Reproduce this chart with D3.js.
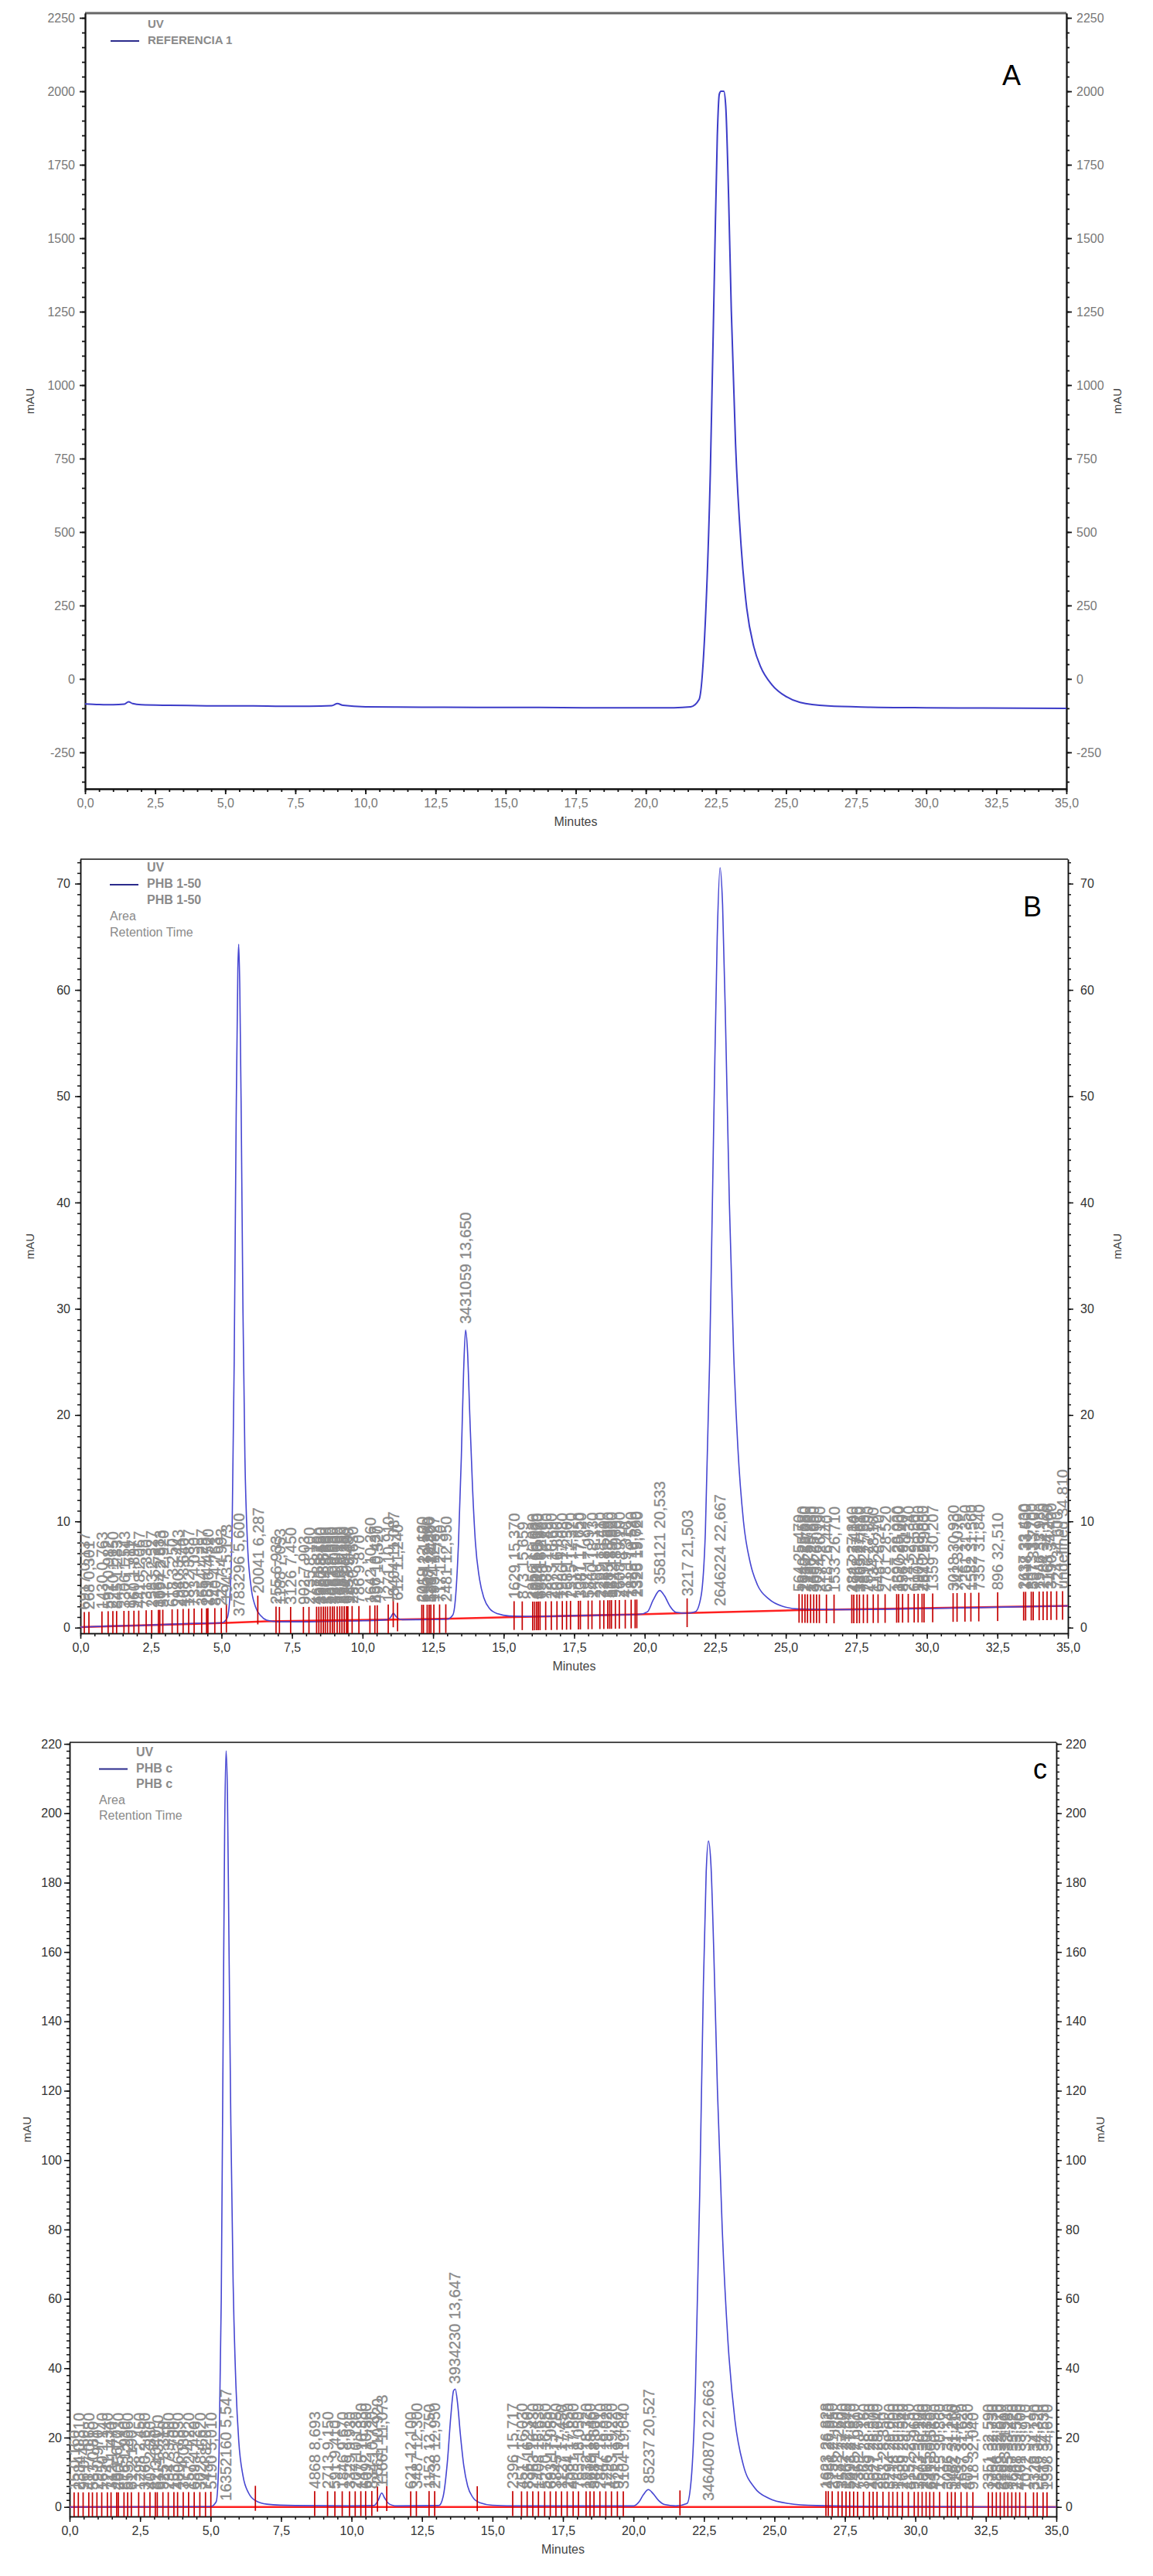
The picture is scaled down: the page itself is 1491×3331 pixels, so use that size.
<!DOCTYPE html>
<html><head><meta charset="utf-8">
<script src="https://cdn.jsdelivr.net/npm/d3@7"></script>
<style>body{margin:0;background:#fff}svg{display:block}text{font-family:"Liberation Sans",Arial,sans-serif}</style>
</head><body><svg id="c" width="1491" height="3331"></svg>
<script>
// ---------------- DATA ----------------
const xTickValues = [0,2.5,5,7.5,10,12.5,15,17.5,20,22.5,25,27.5,30,32.5,35];
const xTickLabels = ["0,0","2,5","5,0","7,5","10,0","12,5","15,0","17,5","20,0","22,5","25,0","27,5","30,0","32,5","35,0"];
const yTicksA = [-250,0,250,500,750,1000,1250,1500,1750,2000,2250];
const yTicksB = [0,10,20,30,40,50,60,70];
const yTicksC = [0,20,40,60,80,100,120,140,160,180,200,220];

const legendA = ["UV","REFERENCIA 1"];
const legendB = ["UV","PHB 1-50","PHB 1-50","Area","Retention Time"];
const legendC = ["UV","PHB c","PHB c","Area","Retention Time"];

// Panel A trace (minutes, mAU)
const traceA_t = [0,0.5,1.0,1.4,1.55,1.7,2.0,3,4,5,6,7,8,8.8,9.0,9.2,10,12,14,16,18,20,21,21.6,21.9,22.1,22.3,22.45,22.55,22.62,22.68,22.78,22.85,22.95,23.05,23.2,23.4,23.6,23.85,24.1,24.5,25,25.5,26.5,28,30,32,35];
const traceA_v = [-85,-87,-88,-86,-78,-84,-88,-90,-91,-92,-92,-93,-93,-91,-84,-90,-95,-96,-97,-97,-98,-98,-98,-95,-70,150,700,1400,1850,1990,2000,2000,1950,1650,1250,800,450,240,110,40,-20,-60,-80,-92,-96,-98,-99,-100];

// Panel B trace
const traceB_t = [0,1,2,3,4,5,5.2,5.3,5.38,5.45,5.52,5.58,5.61,5.65,5.7,5.76,5.83,5.92,6.05,6.2,6.4,6.6,7,8,9,10,10.9,11.0,11.09,11.2,11.4,12,13,13.2,13.3,13.4,13.5,13.58,13.65,13.72,13.8,13.9,14.0,14.15,14.3,14.5,14.8,15.2,16,17,18,19,19.8,20.1,20.3,20.53,20.7,20.9,21.1,21.5,21.8,22.0,22.15,22.3,22.45,22.57,22.67,22.76,22.88,23.0,23.15,23.3,23.5,23.75,24.0,24.4,24.9,25.5,27,30,33,35];
const traceB_v = [0.05,0.15,0.2,0.3,0.4,0.45,0.9,3,10,25,48,62,64.3,60,48,30,16,8,3.8,2.0,1.1,0.7,0.55,0.55,0.6,0.65,0.75,1.0,1.35,1.0,0.75,0.75,0.8,1.2,3,8,16,24,28,26,20,13,8,4.5,2.8,1.8,1.3,1.1,1.05,1.1,1.15,1.2,1.25,1.5,2.6,3.5,3.0,2.0,1.45,1.35,1.5,3,9,25,48,65,71.5,68,55,40,26,17,10,6,4,2.7,2.0,1.75,1.7,1.8,1.95,2.05];
const baseB_t = [0,5.2,6.6,10.9,13.2,15.4,19.8,21.8,25.5,35];
const baseB_v = [0.05,0.45,0.6,0.75,0.85,1.0,1.25,1.4,1.65,2.05];

// Panel C trace
const traceC_t = [0,5,5.2,5.3,5.38,5.45,5.5,5.55,5.6,5.65,5.72,5.8,5.9,6.0,6.15,6.35,6.6,7.0,8,10,10.8,10.95,11.07,11.18,11.35,11.6,13.1,13.25,13.4,13.52,13.62,13.68,13.76,13.86,13.98,14.12,14.3,14.55,15,16,20.0,20.2,20.35,20.53,20.7,20.9,21.1,21.5,21.9,22.05,22.2,22.35,22.48,22.58,22.66,22.75,22.85,22.98,23.15,23.35,23.6,23.9,24.3,24.8,25.5,26.5,28,35];
const traceC_v = [0,0.1,1.5,15,60,140,195,218,205,165,110,65,35,19,9,4,1.8,0.8,0.4,0.3,0.4,2,4,2.5,0.8,0.3,0.4,3,13,26,33.5,34,30,21,12,6,2.8,1.2,0.5,0.3,0.3,1.5,3.5,5,3.8,1.8,0.7,0.3,1,8,35,90,150,183,192,185,160,120,80,48,25,12,5.5,2.5,1.0,0.4,0.2,0];
const baseC_t = [0,35];
const baseC_v = [0,0];

// Integration event markers and their labels (area, retention time)
const markersB_t = [0.137,0.301,0.763,0.982,1.150,1.283,1.543,1.711,1.897,2.067,2.330,2.527,2.763,2.813,2.920,3.250,3.443,3.640,3.837,4.030,4.297,4.470,4.520,4.763,4.993,5.173,
 6.287,6.933,7.053,7.450,7.903,8.100,8.370,8.450,8.530,8.610,8.680,8.760,8.850,8.930,9.000,9.100,9.190,9.270,9.350,9.430,9.480,9.630,9.870,10.260,10.437,10.520,10.910,11.087,11.240,12.100,12.157,12.290,12.360,12.420,12.527,12.730,12.950,
 15.370,15.659,16.030,16.100,16.170,16.230,16.290,16.490,16.690,16.890,17.080,17.230,17.370,17.650,17.720,17.997,18.130,18.410,18.550,18.690,18.760,18.820,18.960,19.100,19.310,19.520,19.660,19.720,
 21.503,
 25.470,25.580,25.680,25.770,25.880,25.990,26.090,26.190,26.440,26.710,27.340,27.410,27.520,27.610,27.750,27.890,28.100,28.270,28.520,28.930,29.000,29.140,29.340,29.550,29.690,29.830,29.900,30.207,30.930,31.070,31.350,31.560,31.840,32.510,33.430,33.500,33.700,33.770,33.980,34.120,34.260,34.400,34.600,34.810];
const markersB_area = [6917,268,1430,592,2210,845,3306,127,960,4418,731,2583,366,1094,5127,618,2940,408,1872,733,3654,289,1516,840,2277,1943,
 20041,255,1188,3126,902,2735,467,1385,3950,712,2264,539,1827,4061,356,1490,2688,815,3372,624,1153,2930,786,1642,836,497,1271,8404,612,2019,645,1108,3347,528,1934,717,2481,
 1629,873,2356,490,1718,3044,655,1289,2873,402,1936,768,2515,1047,3381,584,1460,2299,738,3185,521,1672,944,2608,411,1825,1390,
 2325,
 3217,564,1849,2930,713,1486,3652,905,2274,618,1533,2847,472,1968,3305,789,2516,1134,648,2781,1397,3520,856,2143,617,1905,2670,484,1359,3018,742,2261,1582,7357,896,2637,1418,3073,557,1946,2784,1163,3490,724];

const peaksB_t = [5.600,13.650,20.533,22.667];
const peaksB_area = [3783296,3431059,358121,2646224];

const markersC_t = [0.160,0.310,0.480,0.680,0.810,0.970,1.140,1.340,1.470,1.670,1.730,1.930,2.060,2.190,2.450,2.650,2.850,3.040,3.110,3.310,3.500,3.700,3.830,4.030,4.220,4.420,4.620,4.820,5.010,
 6.590,
 8.693,9.150,9.410,9.670,9.930,10.130,10.330,10.500,10.720,10.920,
 11.250,
 12.100,12.300,12.750,12.950,
 14.460,
 15.717,16.030,16.230,16.430,16.630,16.850,17.050,17.250,17.450,17.650,17.860,18.050,18.320,18.460,18.600,18.810,19.020,19.220,19.430,19.640,
 21.650,
 26.828,26.910,27.050,27.260,27.400,27.540,27.670,27.810,27.950,28.160,28.370,28.500,28.640,28.850,29.060,29.200,29.360,29.540,29.750,29.960,30.100,30.240,30.380,30.510,30.650,30.860,31.140,31.280,31.410,31.620,31.830,32.040,32.590,32.730,32.870,33.010,33.150,33.280,33.420,33.560,33.700,33.910,34.190,34.320,34.530,34.670];
const markersC_area = [15,2384,96,4177,583,29,1650,7241,312,48,2905,876,5533,61,1298,3760,407,82,6114,925,2347,153,4806,37,1572,689,3028,74,5190,
 null,
 4868,2713,591,1846,3329,207,1475,6092,834,2561,
 null,
 621,3487,1152,2738,
 null,
 2396,4517,836,2963,1408,5270,693,3845,1127,2584,4031,765,1932,3618,548,2847,1296,4763,925,3104,
 null,
 1623,4381,2756,918,3542,1267,5093,2418,736,3865,1549,4627,2071,863,3294,5718,1436,2689,4152,927,3573,1804,2965,641,4328,1715,3096,5482,1183,2637,4079,918,3351,1764,4836,2293,619,3785,1547,2908,4461,1072,3329,2146,5617,1398];

const peaksC_t = [5.547,11.073,13.647,20.527,22.663];
const peaksC_area = [16352160,11661,3934230,85237,34640870];

// ---------------- DRAWING ----------------
const svg = d3.select('#c');
svg.append('rect').attr('width',1491).attr('height',3331).attr('fill','#fff');
const fmtT = d => d3.format('.3f')(d).replace('.', ',');
const labelFont = 20;

function interp(ts, vs, t){
  const i = d3.bisectRight(ts, t);
  if (i <= 0) return vs[0];
  if (i >= ts.length) return vs[vs.length-1];
  const f = (t - ts[i-1])/(ts[i]-ts[i-1]);
  return vs[i-1] + f*(vs[i]-vs[i-1]);
}

function drawPanel(c){
  const g = svg.append('g');
  const x = d3.scaleLinear([0,35],[c.left,c.right]);
  const y = d3.scaleLinear(c.yDomain,[c.bottom,c.top]);
  const xMinor = d3.range(0,35.001,0.5);
  const yMinor = d3.range(c.minorStart, c.yDomain[1], c.minorStep);

  g.append('line').attr('x1',c.left).attr('x2',c.right).attr('y1',c.top).attr('y2',c.top)
    .attr('stroke',c.borderColor).attr('stroke-width',c.borderWidth);

  const styleAxis = sel => {
    sel.selectAll('path,line').attr('stroke','#111').attr('stroke-width',c.axisWidth);
    sel.selectAll('text').attr('font-size',c.tickFont).attr('fill',c.tickColor)
       .attr('font-family','"Liberation Sans",Arial,sans-serif');
  };
  const yFmt = d => String(d);
  [ [d3.axisBottom(x).tickValues(xMinor), `translate(0,${c.bottom})`],
    [d3.axisLeft(y).tickValues(yMinor), `translate(${c.left},0)`],
    [d3.axisRight(y).tickValues(yMinor), `translate(${c.right},0)`] ].forEach(([ax,tr])=>{
      g.append('g').attr('transform',tr).call(ax.tickFormat('').tickSize(4).tickSizeOuter(0)).call(styleAxis);
  });
  g.append('g').attr('transform',`translate(0,${c.bottom})`)
    .call(d3.axisBottom(x).tickValues(xTickValues).tickFormat((d,i)=>xTickLabels[i]).tickSize(7).tickSizeOuter(0).tickPadding(6))
    .call(styleAxis);
  g.append('g').attr('transform',`translate(${c.left},0)`)
    .call(d3.axisLeft(y).tickValues(c.yTicks).tickFormat(yFmt).tickSize(7).tickSizeOuter(0).tickPadding(c.padL))
    .call(styleAxis);
  g.append('g').attr('transform',`translate(${c.right},0)`)
    .call(d3.axisRight(y).tickValues(c.yTicks).tickFormat(yFmt).tickSize(7).tickSizeOuter(0).tickPadding(c.padR))
    .call(styleAxis);

  g.append('text').attr('x',(c.left+c.right)/2).attr('y',c.bottom+48).attr('text-anchor','middle')
    .attr('font-size',16).attr('fill','#444').text('Minutes');
  const midY = (c.top+c.bottom)/2;
  g.append('text').attr('transform',`translate(${c.mauL},${midY}) rotate(-90)`).attr('text-anchor','middle')
    .attr('font-size',15).attr('fill','#444').text('mAU');
  g.append('text').attr('transform',`translate(${c.mauR},${midY}) rotate(-90)`).attr('text-anchor','middle')
    .attr('font-size',15).attr('fill','#444').text('mAU');

  const clip = 'clip'+c.id;
  svg.append('clipPath').attr('id',clip).append('rect')
     .attr('x',c.left).attr('y',c.top).attr('width',c.right-c.left).attr('height',c.bottom-c.top);
  const plot = g.append('g').attr('clip-path',`url(#${clip})`);

  if (c.markers){
    const bl = d3.line().x(d=>x(d[0])).y(d=>y(d[1]));
    plot.append('path').attr('d',bl(d3.zip(c.base_t,c.base_v))).attr('fill','none')
      .attr('stroke','#ff2020').attr('stroke-width',2.6);
  }
  const line = d3.line().x(d=>x(d[0])).y(d=>y(d[1])).curve(d3.curveMonotoneX);
  const pts = d3.zip(c.trace_t,c.trace_v);
  plot.append('path').attr('d',line(pts)).attr('fill','none').attr('stroke',c.traceColor).attr('stroke-width',c.traceWidth);

  if (c.markers){
    plot.selectAll('line.mk').data(c.markers).join('line').attr('class','mk')
      .attr('x1',d=>x(d)).attr('x2',d=>x(d))
      .attr('y1',d=>y(interp(c.trace_t,c.trace_v,d)-c.mkDown))
      .attr('y2',d=>y(interp(c.trace_t,c.trace_v,d)+c.mkUp))
      .attr('stroke','#c40000').attr('stroke-width',1.7);
    const labs = c.markers.map((t,i)=>({t, a:c.areas[i]})).filter(d=>d.a!==null);
    plot.selectAll('text.ev').data(labs).join('text').attr('class','ev')
      .attr('transform',d=>`translate(${x(d.t)},${y(interp(c.trace_t,c.trace_v,d.t)+c.mkUp)-3}) rotate(-90)`)
      .attr('dy','0.36em').attr('font-size',labelFont).attr('fill','#858585')
      .attr('stroke','#9a9a9a').attr('stroke-width',0.4)
      .text(d=>`${d.a} ${fmtT(d.t)}`);
    const pk = c.peaks_t.map((t,i)=>({t, a:c.peaks_area[i]}));
    plot.selectAll('text.pk').data(pk).join('text').attr('class','pk')
      .attr('transform',d=>{
        const txt = `${d.a} ${fmtT(d.t)}`;
        const len = txt.length*labelFont*0.53;
        const apex = y(interp(c.trace_t,c.trace_v,d.t)) - 8;
        const y0 = (apex - len > c.top + 10) ? apex : y(interp(c.base_t,c.base_v,d.t)) - 8;
        return `translate(${x(d.t)},${y0}) rotate(-90)`;
      })
      .attr('dy','0.36em').attr('font-size',labelFont).attr('fill','#858585')
      .attr('stroke','#9a9a9a').attr('stroke-width',0.4)
      .text(d=>`${d.a} ${fmtT(d.t)}`);
  }

  const L = c.legend;
  g.append('line').attr('x1',c.lgX).attr('x2',c.lgX+37).attr('y1',c.lgY+c.lgStep).attr('y2',c.lgY+c.lgStep)
    .attr('stroke','#2b2b8c').attr('stroke-width',2);
  L.forEach((s,i)=>{
    const isTrace = i<3;
    g.append('text').attr('x', isTrace ? c.lgX+48 : c.lgX).attr('y',c.lgY+i*c.lgStep)
      .attr('dominant-baseline','middle').attr('font-size',c.lgFont)
      .attr('font-weight', isTrace ? 'bold':'normal')
      .attr('fill','#8a8a8a').text(s);
  });

  if (c.boxH) g.append('rect').attr('x',c.letterX-40).attr('y',c.letterY-50).attr('width',c.right-c.letterX+39.2).attr('height',c.boxH).attr('fill','#fff');
  g.append('text').attr('x',c.letterX).attr('y',c.letterY).attr('text-anchor','middle').attr('dominant-baseline','middle')
    .attr('font-size',36).attr('fill','#000').text(c.letter);
}

drawPanel({id:'A', left:110, right:1379, top:17, bottom:1020, yDomain:[-374,2266], yTicks:yTicksA,
  minorStart:-350, minorStep:50, borderColor:'#666', borderWidth:3, axisWidth:1.8, tickFont:16, tickColor:'#777',
  padL:6, padR:6, mauL:44, mauR:1450,
  trace_t:traceA_t, trace_v:traceA_v, traceColor:'#3c3cc8', traceWidth:2,
  legend:legendA, lgX:143, lgY:32, lgStep:21, lgFont:15,
  letter:'A', letterX:1308, letterY:100, boxH:87});

drawPanel({id:'B', left:104, right:1381, top:1111, bottom:2112, yDomain:[-0.53,72.3], yTicks:yTicksB,
  minorStart:0, minorStep:1, borderColor:'#111', borderWidth:1.5, axisWidth:1.5, tickFont:16, tickColor:'#333',
  padL:6, padR:9, mauL:44, mauR:1450,
  trace_t:traceB_t, trace_v:traceB_v, base_t:baseB_t, base_v:baseB_v, traceColor:'#4646d2', traceWidth:1.6,
  markers:markersB_t, areas:markersB_area, peaks_t:peaksB_t, peaks_area:peaksB_area, mkDown:1.3, mkUp:1.4,
  legend:legendB, lgX:142, lgY:1123, lgStep:21, lgFont:16,
  letter:'B', letterX:1335, letterY:1175});

drawPanel({id:'C', left:90, right:1366, top:2253, bottom:3254, yDomain:[-2.74,220.45], yTicks:yTicksC,
  minorStart:0, minorStep:2, borderColor:'#111', borderWidth:1.5, axisWidth:1.5, tickFont:16, tickColor:'#333',
  padL:3, padR:5, mauL:40, mauR:1428,
  trace_t:traceC_t, trace_v:traceC_v, base_t:baseC_t, base_v:baseC_v, traceColor:'#4646d2', traceWidth:1.6,
  markers:markersC_t, areas:markersC_area, peaks_t:peaksC_t, peaks_area:peaksC_area, mkDown:3, mkUp:4.2,
  legend:legendC, lgX:128, lgY:2267, lgStep:20.5, lgFont:16,
  letter:'c', letterX:1345, letterY:2290});
</script></body></html>
